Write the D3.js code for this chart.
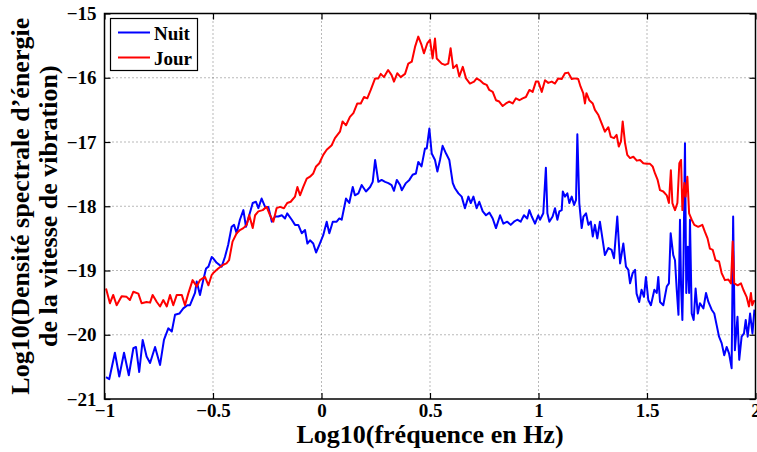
<!DOCTYPE html>
<html>
<head>
<meta charset="utf-8">
<script src="https://cdn.jsdelivr.net/npm/d3@7"></script>
<style>
  html, body { margin: 0; padding: 0; background: #fff; }
  svg { display: block; }
  text { font-family: "Liberation Serif", "Times New Roman", serif; font-weight: bold; fill: #000; }
</style>
</head>
<body>
<svg id="chart" width="757" height="452"></svg>
<script>
// Log10 of frequency (Hz) and Log10 of the velocity spectral density, night record
const freqNuit = [-0.993,-0.978,-0.952,-0.932,-0.910,-0.888,-0.867,-0.855,-0.840,-0.824,-0.806,-0.790,-0.767,-0.744,-0.726,-0.706,-0.690,-0.675,-0.655,-0.637,-0.618,-0.606,-0.583,-0.575,-0.560,-0.545,-0.532,-0.521,-0.506,-0.499,-0.483,-0.460,-0.445,-0.430,-0.414,-0.403,-0.391,-0.376,-0.360,-0.348,-0.333,-0.317,-0.302,-0.291,-0.276,-0.260,-0.245,-0.229,-0.214,-0.199,-0.183,-0.168,-0.158,-0.137,-0.122,-0.107,-0.091,-0.076,-0.065,-0.053,-0.038,-0.025,-0.010,0.008,0.024,0.036,0.052,0.070,0.082,0.093,0.113,0.128,0.144,0.154,0.170,0.185,0.205,0.224,0.236,0.247,0.262,0.277,0.293,0.308,0.323,0.334,0.347,0.362,0.370,0.389,0.405,0.420,0.435,0.446,0.461,0.477,0.485,0.497,0.508,0.523,0.534,0.546,0.558,0.574,0.589,0.605,0.615,0.631,0.646,0.661,0.677,0.688,0.700,0.715,0.727,0.743,0.758,0.774,0.789,0.804,0.823,0.838,0.856,0.872,0.887,0.902,0.918,0.933,0.948,0.958,0.969,0.984,0.999,1.007,1.022,1.034,1.041,1.050,1.065,1.076,1.087,1.096,1.107,1.112,1.122,1.133,1.142,1.153,1.164,1.173,1.179,1.188,1.199,1.207,1.219,1.230,1.241,1.250,1.260,1.271,1.283,1.296,1.306,1.322,1.337,1.348,1.363,1.376,1.391,1.403,1.414,1.422,1.434,1.445,1.452,1.464,1.475,1.486,1.495,1.506,1.518,1.534,1.545,1.552,1.560,1.575,1.591,1.601,1.609,1.621,1.629,1.637,1.645,1.652,1.657,1.663,1.668,1.675,1.681,1.688,1.694,1.698,1.706,1.715,1.724,1.734,1.744,1.760,1.772,1.783,1.798,1.810,1.821,1.832,1.844,1.856,1.867,1.878,1.890,1.897,1.905,1.917,1.925,1.936,1.947,1.955,1.964,1.975,1.986,1.995];
const psdNuit = [-20.66,-20.69,-20.28,-20.65,-20.28,-20.63,-20.21,-20.19,-20.58,-20.08,-20.34,-20.44,-20.19,-20.47,-20.08,-19.90,-19.95,-19.69,-19.67,-19.59,-19.54,-19.54,-19.35,-19.17,-19.38,-19.15,-18.97,-18.94,-18.79,-18.81,-18.88,-18.94,-18.79,-18.60,-18.32,-18.29,-18.42,-18.21,-18.06,-18.32,-18.14,-17.95,-17.93,-18.03,-17.88,-18.01,-18.01,-18.24,-18.16,-18.16,-18.14,-18.19,-18.11,-18.21,-18.29,-18.29,-18.42,-18.37,-18.58,-18.53,-18.58,-18.72,-18.60,-18.45,-18.24,-18.42,-18.24,-18.24,-18.19,-18.21,-17.88,-17.95,-17.70,-17.83,-17.80,-17.67,-17.77,-17.70,-17.62,-17.28,-17.62,-17.59,-17.62,-17.64,-17.67,-17.76,-17.59,-17.67,-17.75,-17.64,-17.59,-17.51,-17.49,-17.31,-17.38,-17.10,-17.10,-16.79,-17.18,-17.28,-17.46,-17.28,-17.06,-17.18,-17.28,-17.64,-17.72,-17.80,-17.85,-18.03,-17.85,-17.95,-17.85,-18.03,-17.93,-18.08,-18.14,-18.10,-18.19,-18.34,-18.14,-18.27,-18.24,-18.29,-18.24,-18.21,-18.24,-18.14,-18.19,-18.06,-18.16,-18.27,-18.14,-18.21,-18.11,-17.40,-18.11,-18.24,-18.16,-18.03,-18.21,-18.08,-18.06,-17.77,-17.85,-17.80,-17.95,-17.85,-17.98,-17.90,-16.88,-17.95,-18.34,-18.16,-18.11,-18.29,-18.24,-18.47,-18.29,-18.50,-18.24,-18.53,-18.76,-18.65,-18.68,-18.81,-18.16,-18.89,-18.58,-18.94,-18.99,-19.20,-19.04,-18.99,-19.36,-19.49,-19.30,-19.41,-19.10,-19.46,-19.54,-19.30,-19.35,-19.10,-19.49,-19.54,-19.25,-19.20,-18.42,-18.76,-18.84,-19.30,-19.69,-18.21,-19.25,-19.77,-18.89,-17.02,-19.35,-18.63,-19.35,-18.21,-19.67,-19.77,-19.28,-19.67,-19.51,-19.59,-19.35,-19.49,-19.61,-19.67,-19.85,-20.03,-20.13,-20.32,-20.19,-20.29,-20.52,-18.16,-20.24,-19.72,-20.39,-20.03,-19.98,-19.77,-20.03,-19.67,-19.98,-19.61];

// Same quantities, day record
const freqJour = [-0.993,-0.975,-0.960,-0.944,-0.921,-0.898,-0.883,-0.867,-0.844,-0.829,-0.806,-0.790,-0.778,-0.759,-0.744,-0.729,-0.713,-0.698,-0.683,-0.667,-0.644,-0.629,-0.614,-0.594,-0.575,-0.560,-0.537,-0.521,-0.506,-0.499,-0.476,-0.453,-0.438,-0.426,-0.410,-0.391,-0.376,-0.360,-0.345,-0.333,-0.317,-0.306,-0.291,-0.271,-0.253,-0.237,-0.222,-0.207,-0.191,-0.173,-0.158,-0.142,-0.122,-0.111,-0.099,-0.084,-0.068,-0.053,-0.038,-0.025,-0.010,0.008,0.024,0.047,0.062,0.085,0.097,0.113,0.131,0.147,0.165,0.181,0.196,0.211,0.227,0.247,0.262,0.273,0.288,0.307,0.323,0.334,0.349,0.365,0.385,0.400,0.416,0.431,0.446,0.461,0.472,0.488,0.500,0.512,0.523,0.531,0.554,0.569,0.584,0.595,0.607,0.623,0.635,0.651,0.666,0.684,0.703,0.715,0.730,0.746,0.761,0.773,0.789,0.804,0.819,0.835,0.850,0.865,0.881,0.896,0.912,0.927,0.942,0.958,0.973,0.988,0.999,1.015,1.030,1.045,1.061,1.076,1.091,1.107,1.122,1.137,1.153,1.168,1.183,1.194,1.206,1.214,1.221,1.234,1.250,1.260,1.276,1.291,1.306,1.322,1.333,1.348,1.360,1.370,1.380,1.388,1.399,1.409,1.422,1.437,1.453,1.468,1.483,1.499,1.514,1.526,1.537,1.549,1.560,1.575,1.591,1.601,1.610,1.617,1.629,1.640,1.649,1.657,1.663,1.672,1.678,1.686,1.694,1.706,1.718,1.736,1.755,1.767,1.779,1.790,1.803,1.816,1.832,1.844,1.859,1.875,1.887,1.895,1.902,1.918,1.933,1.944,1.959,1.970,1.979,1.985,1.995];
const psdJour = [-19.28,-19.51,-19.38,-19.54,-19.40,-19.41,-19.46,-19.33,-19.36,-19.51,-19.49,-19.50,-19.38,-19.49,-19.56,-19.46,-19.56,-19.38,-19.54,-19.38,-19.38,-19.54,-19.36,-19.15,-19.25,-19.15,-19.10,-19.23,-19.07,-19.04,-18.97,-18.91,-18.89,-18.84,-18.55,-18.42,-18.37,-18.34,-18.29,-18.14,-18.34,-18.14,-18.08,-18.06,-18.01,-18.14,-18.24,-18.03,-18.01,-18.03,-17.95,-17.93,-17.85,-17.70,-17.83,-17.70,-17.57,-17.54,-17.49,-17.38,-17.33,-17.20,-17.12,-17.05,-16.94,-16.84,-16.68,-16.74,-16.61,-16.55,-16.40,-16.40,-16.30,-16.32,-16.19,-16.01,-16.01,-15.94,-15.99,-15.88,-15.96,-16.06,-15.93,-15.99,-15.94,-15.78,-15.75,-15.52,-15.36,-15.49,-15.62,-15.46,-15.41,-15.70,-15.39,-15.70,-15.78,-15.80,-15.78,-15.54,-15.85,-15.80,-15.98,-15.83,-16.01,-16.09,-16.06,-16.01,-16.04,-16.09,-16.11,-16.19,-16.22,-16.35,-16.37,-16.44,-16.40,-16.37,-16.40,-16.32,-16.35,-16.32,-16.30,-16.19,-16.22,-16.06,-16.06,-16.22,-16.04,-16.08,-16.06,-16.09,-16.01,-16.02,-15.93,-15.92,-16.02,-16.01,-16.02,-16.14,-16.24,-16.40,-16.24,-16.35,-16.40,-16.50,-16.58,-16.71,-16.84,-16.77,-16.92,-16.94,-16.89,-17.07,-16.99,-16.68,-17.02,-17.20,-17.25,-17.23,-17.29,-17.28,-17.33,-17.34,-17.34,-17.38,-17.49,-17.59,-17.75,-17.77,-17.83,-17.95,-17.44,-17.95,-18.06,-17.95,-17.33,-17.28,-18.06,-17.64,-17.85,-17.54,-18.11,-18.21,-18.29,-18.32,-18.29,-18.40,-18.50,-18.66,-18.68,-18.84,-18.86,-19.04,-19.15,-19.14,-19.20,-18.55,-19.20,-19.23,-19.20,-19.30,-19.41,-19.56,-19.35,-19.54,-19.46];

const xTicks = [-1, -0.5, 0, 0.5, 1, 1.5, 2];
const yTicks = [-21, -20, -19, -18, -17, -16, -15];
const seriesNames = ["Nuit", "Jour"];
const seriesColors = ["#0000ff", "#ff0000"];

const svg = d3.select("#chart");
const plotL = 104.5, plotR = 755.5, plotT = 13.5, plotB = 399;

const x = d3.scaleLinear().domain([-1, 2]).range([plotL, plotR]);
const y = d3.scaleLinear().domain([-21, -15]).range([plotB, plotT]);

const minus = s => String(s).replace("-", "\u2212");

// dotted grid
const grid = svg.append("g").attr("stroke", "#000").attr("stroke-opacity", 0.55)
  .attr("stroke-width", 1).attr("stroke-dasharray", "1,3");
xTicks.slice(1, -1).forEach(t => grid.append("line")
  .attr("x1", x(t)).attr("x2", x(t)).attr("y1", plotT).attr("y2", plotB));
yTicks.slice(1, -1).forEach(t => grid.append("line")
  .attr("x1", plotL).attr("x2", plotR).attr("y1", y(t)).attr("y2", y(t)));

// curves: night first, day on top
const line = d3.line().x(d => x(d[0])).y(d => y(d[1]));
const nuit = freqNuit.map((f, i) => [f, psdNuit[i]]);
const jour = freqJour.map((f, i) => [f, psdJour[i]]);
[nuit, jour].forEach((data, i) => {
  svg.append("path").datum(data).attr("d", line)
    .attr("fill", "none").attr("stroke", seriesColors[i])
    .attr("stroke-width", 2).attr("stroke-linejoin", "round");
});

// axes with inward ticks on all four sides
const tickLen = 6;
const axB = d3.axisBottom(x).tickValues(xTicks).tickSize(-tickLen).tickPadding(6).tickFormat(minus);
const axT = d3.axisTop(x).tickValues(xTicks).tickSize(-tickLen).tickFormat("");
const axL = d3.axisLeft(y).tickValues(yTicks).tickSize(-tickLen).tickPadding(8).tickFormat(minus);
const axR = d3.axisRight(y).tickValues(yTicks).tickSize(-tickLen).tickFormat("");

function style(g) {
  g.select(".domain").remove();
  g.selectAll(".tick line").attr("stroke", "#000").attr("stroke-width", 1.2);
  g.selectAll("text").style("font-size", "19px").attr("fill", "#000");
}
svg.append("g").attr("transform", `translate(0,${plotB})`).call(axB).call(style)
  .selectAll("text").attr("dy", "0.62em");
svg.append("g").attr("transform", `translate(0,${plotT})`).call(axT).call(style);
svg.append("g").attr("transform", `translate(${plotL},0)`).call(axL).call(style);
svg.append("g").attr("transform", `translate(${plotR},0)`).call(axR).call(style);

svg.append("rect").attr("x", plotL).attr("y", plotT)
  .attr("width", plotR - plotL).attr("height", plotB - plotT)
  .attr("fill", "none").attr("stroke", "#000").attr("stroke-width", 1.5);

// axis titles
svg.append("text").attr("x", (plotL + plotR) / 2).attr("y", 443)
  .attr("text-anchor", "middle").style("font-size", "26px")
  .text("Log10(fréquence en Hz)");

const yt = svg.append("g").attr("transform", `translate(0,${(plotT + plotB) / 2}) rotate(-90)`);
yt.append("text").attr("x", 0).attr("y", 29).attr("text-anchor", "middle")
  .style("font-size", "26px").text("Log10(Densité spectrale d’énergie");
yt.append("text").attr("x", 0).attr("y", 57).attr("text-anchor", "middle")
  .style("font-size", "26px").text("de la vitesse de vibration)");

// legend
const lg = svg.append("g");
lg.append("rect").attr("x", 110.5).attr("y", 18.5).attr("width", 87).attr("height", 52)
  .attr("fill", "#fff").attr("stroke", "#000").attr("stroke-width", 1.2);
seriesNames.forEach((name, i) => {
  const cy = 32.5 + i * 25;
  lg.append("line").attr("x1", 118).attr("x2", 150).attr("y1", cy).attr("y2", cy)
    .attr("stroke", seriesColors[i]).attr("stroke-width", 2);
  lg.append("text").attr("x", 154).attr("y", cy + 7).style("font-size", "19px").text(name);
});
</script>
</body>
</html>
